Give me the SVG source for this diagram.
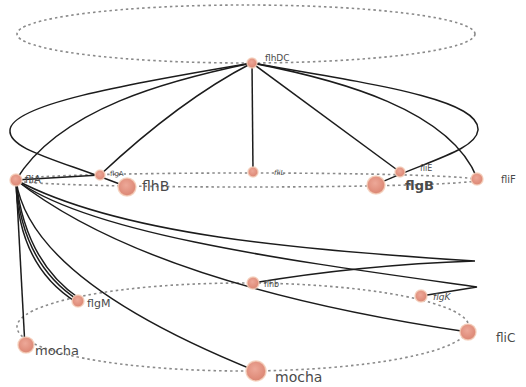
<svg xmlns="http://www.w3.org/2000/svg" width="526" height="387" viewBox="0 0 526 387">
<defs>
<radialGradient id="ng" cx="0.45" cy="0.4" r="0.6">
<stop offset="0" stop-color="#eda898"/>
<stop offset="0.75" stop-color="#e08e7c"/>
<stop offset="1" stop-color="#d98672"/>
</radialGradient>
<style>
.ring{fill:none;stroke:#8a8a8a;stroke-width:1.6;stroke-dasharray:2.5 3}
.e{fill:none;stroke:#1c1c1c;stroke-width:1.5}
.n{fill:url(#ng);stroke:#f4cdb8;stroke-width:1.5;stroke-opacity:0.8}
.t{font-family:"DejaVu Sans",sans-serif;fill:#4a4a4a}
</style>
</defs>
<rect width="526" height="387" fill="#fff"/>
<g id="rings">
<ellipse class="ring" cx="246" cy="34" rx="229" ry="29"/>
<ellipse class="ring" cx="246" cy="180" rx="231" ry="7"/>
<ellipse class="ring" cx="243" cy="327" rx="226" ry="44"/>
</g>
<g id="edges">
<path class="e" d="M252,63 C120,85 12,105 10,130 C8,150 60,160 127,187"/>
<path class="e" d="M252,63 C170,80 60,108 16,180"/>
<path class="e" d="M252,63 Q180,100 100,175"/>
<path class="e" d="M252,63 L253,172"/>
<path class="e" d="M252,63 L400,172"/>
<path class="e" d="M252,63 C340,80 450,110 477,178"/>
<path class="e" d="M252,63 C380,85 480,100 478,130 C476,150 430,160 375,185"/>
<path class="e" d="M16,180 L100,175"/>
<path class="e" d="M16,180 L25,347"/>
<path class="e" d="M16,180 Q17,265 76,302"/>
<path class="e" d="M16,180 Q21,263 78,300"/>
<path class="e" d="M16,180 Q25,262 80,299"/>
<path class="e" d="M16,180 Q30,280 256,371"/>
<path class="e" d="M16,180 Q150,285 468,332"/>
<path class="e" d="M16,180 C120,235 300,250 475,261 Q360,265 253,283"/>
<path class="e" d="M16,180 C90,235 300,262 477,287 L421,296"/>
</g>
<g id="flhDC"><circle class="n" cx="252" cy="63" r="5"/><text class="t" x="265" y="61" font-size="9">flhDC</text></g>
<g id="fliA"><circle class="n" cx="16" cy="180" r="6"/><text class="t" x="25" y="183" font-size="10">fliA</text></g>
<g id="flgA"><circle class="n" cx="100" cy="175" r="5"/><text class="t" x="110" y="176" font-size="7">flgA</text></g>
<g id="flhB"><circle class="n" cx="127" cy="187" r="9"/><text class="t" x="142" y="191" font-size="14">flhB</text></g>
<g id="fliL"><circle class="n" cx="253" cy="172" r="5"/><text class="t" x="274" y="175" font-size="7" font-style="italic">fliL</text></g>
<g id="fliE"><circle class="n" cx="400" cy="172" r="5"/><text class="t" x="420" y="171" font-size="8">fliE</text></g>
<g id="flgB"><circle class="n" cx="376" cy="185" r="9"/><text class="t" x="405" y="190" font-size="13" font-weight="bold">flgB</text></g>
<g id="fliF"><circle class="n" cx="477" cy="179" r="6"/><text class="t" x="501" y="183" font-size="10">fliF</text></g>
<g id="flhb"><circle class="n" cx="253" cy="283" r="6"/><text class="t" x="264" y="287" font-size="8">flhb</text></g>
<g id="flgK"><circle class="n" cx="421" cy="296" r="6"/><text class="t" x="433" y="300" font-size="9" font-style="italic">flgK</text></g>
<g id="flgM"><circle class="n" cx="78" cy="301" r="6"/><text class="t" x="87" y="307" font-size="11">flgM</text></g>
<g id="mocha1"><circle class="n" cx="26" cy="345" r="8"/><text class="t" x="35" y="355" font-size="13">mocha</text></g>
<g id="mocha2"><circle class="n" cx="256" cy="371" r="10"/><text class="t" x="275" y="382" font-size="14">mocha</text></g>
<g id="fliC"><circle class="n" cx="468" cy="332" r="8"/><text class="t" x="496" y="342" font-size="12">fliC</text></g>
</svg>
